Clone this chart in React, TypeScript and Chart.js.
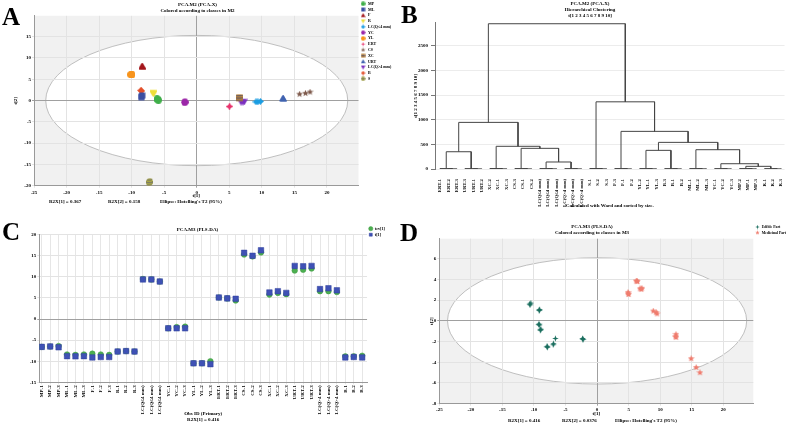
import { useEffect, useRef } from 'react';
import { Chart, registerables } from 'chart.js';
Chart.register(...registerables);

const FONT = "'Liberation Serif', 'Times New Roman', serif";
const F5: any = { family: FONT, size: 5, weight: 'bold', lineHeight: 1.2 };
const F4: any = { family: FONT, size: 4, weight: 'bold', lineHeight: 1.2 };
Chart.defaults.font.family = FONT;
Chart.defaults.font.size = 5;
Chart.defaults.font.weight = 'bold' as any;
Chart.defaults.color = '#000';

// ---------- Panel A: PCA score plot (M2) ----------
const aGroups = ['MP', 'ML', 'F', 'R', 'LC(Q≤4 mm)', 'YC', 'YL', 'ERT', 'CS', 'XC', 'URT', 'LC(Q>4 mm)', 'B', 'S'];
const aMP = [[-6.0, 0.2], [-6.1, 0.4], [-5.9, 0.1]];
const aML = [[-8.5, 0.8], [-8.4, 1.2], [-8.5, 1.0]];
const aF = [[-8.4, 8.0], [-8.3, 7.9], [-8.4, 8.1]];
const aR = [[-6.7, 1.7], [-6.6, 1.6], [-6.7, 1.8]];
const aLC4 = [[9.1, -0.3], [9.4, -0.3], [9.8, -0.2]];
const aYC = [[-1.9, -0.4], [-1.8, -0.3], [-1.8, -0.5]];
const aYL = [[-10.1, 6.1], [-10.0, 6.2], [-10.0, 6.0]];
const aERT = [[5.0, -1.4], [5.1, -1.3], [5.0, -1.5]];
const aCS = [[15.8, 1.5], [16.7, 1.7], [17.4, 2.0]];
const aXC = [[6.5, 0.5], [6.6, 0.7], [6.5, 0.6]];
const aURT = [[13.3, 0.4], [13.2, 0.5], [13.3, 0.5]];
const aLC5 = [[6.8, -0.4], [7.1, -0.4], [7.3, -0.3]];
const aB = [[-8.5, 2.3], [-8.6, 2.4], [-8.5, 2.2]];
const aS = [[-7.3, -19.2], [-7.2, -19.0], [-7.3, -19.3]];
const aData = [aMP, aML, aF, aR, aLC4, aYC, aYL, aERT, aCS, aXC, aURT, aLC5, aB, aS];
const aEllipse = [23.2, 15.3];

// ---------- Panel B: hierarchical clustering ----------
const bGroups = ['ERT', 'URT', 'XC', 'CS', 'LC(Q≤4 mm)', 'LC(Q>4 mm)', 'S', 'F', 'YL', 'B', 'ML', 'YC', 'MP', 'R'];
const bLeaves = ['ERT-1', 'ERT-2', 'ERT-3', 'URT-3', 'URT-1', 'URT-2', 'XC-2', 'XC-1', 'XC-3', 'CS-3', 'CS-1', 'CS-2',
  'LC(Q≤4 mm)', 'LC(Q≤4 mm)', 'LC(Q≤4 mm)', 'LC(Q>4 mm)', 'LC(Q>4 mm)', 'LC(Q>4 mm)', 'S-1', 'S-2', 'S-3',
  'F-3', 'F-1', 'F-2', 'YL-2', 'YL-1', 'YL-3', 'B-3', 'B-1', 'B-2', 'ML-1', 'ML-2', 'ML-3', 'YC-1', 'YC-2', 'YC-3',
  'MP-2', 'MP-1', 'MP-3', 'R-1', 'R-2', 'R-3'];
const bTicks = [0, 500, 1000, 1500, 2000, 2500];
const bWithin = [[4, 9], [3, 8], [4, 10], [3, 9], [4, 9], [3, 8], [4, 10], [3, 9], [4, 9], [3, 8], [4, 9], [3, 8], [4, 9], [3, 8]];
const bMerges: [string, string, number][] = [
  ['ERT', 'URT', 350],
  ['LC(Q≤4 mm)', 'LC(Q>4 mm)', 142],
  ['CS', 'm1', 419],
  ['XC', 'm2', 460],
  ['m0', 'm3', 945],
  ['MP', 'R', 54],
  ['YC', 'm5', 107],
  ['ML', 'm6', 391],
  ['YL', 'B', 378],
  ['m8', 'm7', 540],
  ['F', 'm9', 763],
  ['S', 'm10', 1362],
  ['m4', 'm11', 2945],
];

// ---------- Panel C: PLS-DA scores per observation ----------
const cLabels = ['MP-1', 'MP-2', 'MP-3', 'ML-1', 'ML-2', 'ML-3', 'F-1', 'F-2', 'F-3', 'R-1', 'R-2', 'R-3',
  'LC(Q≤4 mm)', 'LC(Q≤4 mm)', 'LC(Q≤4 mm)', 'YC-1', 'YC-2', 'YC-3', 'YL-1', 'YL-2', 'YL-3', 'ERT-1', 'ERT-2', 'ERT-3',
  'CS-1', 'CS-2', 'CS-3', 'XC-1', 'XC-2', 'XC-3', 'URT-1', 'URT-2', 'URT-3', 'LC(Q>4 mm)', 'LC(Q>4 mm)', 'LC(Q>4 mm)',
  'B-1', 'B-2', 'B-3'];
const cTcv = [-6.6, -6.5, -6.4, -8.4, -8.5, -8.4, -8.2, -8.4, -8.5, -7.7, -7.6, -7.7, 9.5, 9.4, 8.9, -2.2, -1.9, -1.8,
  -10.5, -10.5, -10.0, 5.1, 4.9, 4.4, 15.3, 14.85, 15.8, 5.8, 6.2, 5.9, 11.5, 11.7, 12.0, 6.6, 6.6, 6.4, -8.85, -8.85, -8.7];
const cT = [-6.6, -6.5, -6.7, -8.8, -8.85, -8.8, -9.1, -9.0, -9.0, -7.7, -7.6, -7.7, 9.4, 9.4, 8.9, -2.2, -2.2, -2.2,
  -10.5, -10.5, -10.7, 5.1, 4.9, 4.8, 15.7, 15.0, 16.3, 6.3, 6.6, 6.2, 12.6, 12.5, 12.6, 7.1, 7.3, 6.8, -9.1, -9.0, -9.1];

// ---------- Panel D: PLS-DA score plot (M3) ----------
const dEdible = [[-10.5, 1.72], [-10.6, 1.55], [-10.7, 1.62], [-9.1, 1.1], [-9.2, 1.05], [-9.15, 1.0],
  [-9.2, -0.3], [-9.15, -0.4], [-9.25, -0.35], [-8.9, -0.8], [-9.0, -0.9], [-8.95, -0.85],
  [-7.9, -2.45], [-7.85, -2.55], [-7.95, -2.5], [-6.9, -2.2], [-6.95, -2.3], [-6.6, -1.7],
  [-2.3, -1.7], [-2.2, -1.8], [-2.3, -1.75]];
const dMedicinal = [[4.9, 2.75], [5.0, 2.55], [4.95, 2.62], [6.2, 3.85], [6.4, 3.8], [6.3, 3.85],
  [6.8, 3.1], [7.1, 3.15], [7.0, 3.05], [8.9, 0.95], [9.35, 0.82], [9.5, 0.68],
  [12.5, -1.3], [12.45, -1.5], [12.5, -1.6], [14.9, -3.65], [15.7, -4.5], [16.3, -5.0]];
const dEllipse = [23.7, 6.1];

// ---------- marker images ----------
function marker(kind: string, color: string, size: number, color2?: string): HTMLCanvasElement {
  const c = document.createElement('canvas');
  const px = Math.ceil(size);
  c.width = px; c.height = px;
  const g = c.getContext('2d')!;
  const m = px / 2, r = size / 2;
  const poly = (pts: number[][]) => {
    g.beginPath();
    pts.forEach(([x, y], i) => (i ? g.lineTo(x, y) : g.moveTo(x, y)));
    g.closePath();
  };
  const star = (n: number, ro: number, ri: number) => {
    const pts: number[][] = [];
    for (let i = 0; i < 2 * n; i++) {
      const a = -Math.PI / 2 + (i * Math.PI) / n;
      const rr = i % 2 ? ri : ro;
      pts.push([m + rr * Math.cos(a), m + rr * Math.sin(a)]);
    }
    poly(pts);
  };
  const hex = () => {
    const pts: number[][] = [];
    for (let i = 0; i < 6; i++) { const a = (i * Math.PI) / 3; pts.push([m + r * Math.cos(a), m + r * Math.sin(a)]); }
    poly(pts);
  };
  g.fillStyle = color;
  switch (kind) {
    case 'circle': g.beginPath(); g.arc(m, m, r, 0, Math.PI * 2); break;
    case 'square': g.beginPath(); g.rect(m - r * 0.85, m - r * 0.85, r * 1.7, r * 1.7); break;
    case 'tri': poly([[m, m - r], [m + r, m + r * 0.8], [m - r, m + r * 0.8]]); break;
    case 'triDown': poly([[m, m + r], [m + r, m - r * 0.8], [m - r, m - r * 0.8]]); break;
    case 'hex': hex(); break;
    case 'star5': star(5, r, r * 0.45); break;
    case 'star4': star(4, r, r * 0.36); break;
    case 'star4fat': star(4, r, r * 0.62); break;
    case 'bands': g.beginPath(); g.rect(m - r * 0.9, m - r * 0.8, r * 1.8, r * 1.6); break;
    case 'hexbands': hex(); break;
  }
  g.fill();
  if ((kind === 'bands' || kind === 'hexbands') && color2) {
    g.save();
    g.clip();
    g.fillStyle = color2;
    const h = size / 5;
    for (let k = 0; k < 3; k++) g.fillRect(0, m - r + (2 * k + 0.5) * h * 0.85, px, h * 0.8);
    g.restore();
  }
  return c;
}

const aStyle: [string, string, string?][] = [
  ['circle', '#3fae49'], ['square', '#3b4ea3'], ['tri', '#a3161b'], ['triDown', '#eede3a'],
  ['star4fat', '#1b9de2'], ['hex', '#9b27a8'], ['circle', '#f7941d'], ['star4', '#e8336d'],
  ['star5', '#7e5a4c'], ['bands', '#f0a12b', '#2d3c78'], ['tri', '#4163b0'], ['triDown', '#7a2fbf'],
  ['star4fat', '#e3502b'], ['hexbands', '#b8b53a', '#6e6e6e'],
];

function ellipsePlugin(a: number, b: number) {
  return {
    id: 'ellipseBg',
    beforeDraw(chart: any) {
      const { ctx, chartArea: ca, scales } = chart;
      const xs = scales.x, ys = scales.y;
      ctx.save();
      ctx.fillStyle = '#f1f1f1';
      ctx.fillRect(ca.left, ca.top, ca.right - ca.left, ca.bottom - ca.top);
      const cx = xs.getPixelForValue(0), cy = ys.getPixelForValue(0);
      const rx = Math.abs(xs.getPixelForValue(a) - cx), ry = Math.abs(ys.getPixelForValue(b) - cy);
      ctx.beginPath();
      ctx.ellipse(cx, cy, rx, ry, 0, 0, Math.PI * 2);
      ctx.fillStyle = '#fff';
      ctx.fill();
      ctx.lineWidth = 0.8;
      ctx.strokeStyle = '#b0b0b0';
      ctx.stroke();
      ctx.restore();
    },
  };
}

const gridZero = (ctx: any) => (ctx.tick && ctx.tick.value === 0 ? '#a0a0a0' : '#e3e3e3');

function buildDendro() {
  const pos: Record<string, { x: number; h: number }> = {};
  const segs: { x: number; y: number | null }[] = [];
  const push = (pts: number[][]) => {
    pts.forEach(([x, y]) => segs.push({ x, y }));
    segs.push({ x: pts[pts.length - 1][0], y: null });
  };
  bGroups.forEach((g, gi) => {
    const l0 = 3 * gi;
    const [h1, h2] = bWithin[gi];
    push([[l0 + 1, 0], [l0 + 1, h1], [l0 + 2, h1], [l0 + 2, 0]]);
    push([[l0, 0], [l0, h2], [l0 + 1.5, h2], [l0 + 1.5, h1]]);
    pos[g] = { x: l0 + 0.75, h: h2 };
  });
  bMerges.forEach(([l, r, h], i) => {
    const L = pos[l], R = pos[r];
    push([[L.x, L.h], [L.x, h], [R.x, h], [R.x, R.h]]);
    pos['m' + i] = { x: (L.x + R.x) / 2, h };
  });
  return segs;
}

const legendWith = (imgs: HTMLCanvasElement[]) => (chart: any) => {
  const items = (Chart.defaults.plugins.legend.labels as any).generateLabels(chart);
  items.forEach((it: any) => { it.pointStyle = imgs[it.datasetIndex]; });
  return items;
};

function cfgA(): any {
  const plotMarkers = aStyle.map(([k, c, c2]) => marker(k, c, 7, c2));
  const legMarkers = aStyle.map(([k, c, c2]) => marker(k, c, 4.6, c2));
  return {
    type: 'scatter',
    data: {
      datasets: aGroups.map((g, i) => ({
        label: g,
        data: aData[i].map(([x, y]) => ({ x, y })),
        pointStyle: plotMarkers[i],
        pointRadius: 3.5,
      })),
    },
    options: {
      responsive: false, animation: false, events: [], devicePixelRatio: 1,
      layout: { padding: 0 },
      plugins: {
        tooltip: { enabled: false },
        title: { display: true, text: ['PCA.M2 (PCA-X)', 'Colored according to classes in M2'], font: F5, color: '#000', padding: { top: 2, bottom: 1.8 } },
        legend: {
          position: 'right', align: 'start', maxWidth: 36.5,
          labels: { font: F4, color: '#000', usePointStyle: true, pointStyleWidth: 5.7, padding: 1.77, generateLabels: legendWith(legMarkers) },
        },
      },
      scales: {
        x: {
          type: 'linear', min: -25, max: 24.85,
          ticks: { stepSize: 5, includeBounds: false, font: F5, color: '#000', padding: 2 },
          grid: { color: gridZero, tickLength: 2 },
          border: { color: '#999' },
          title: { display: true, text: 't[1]', font: F5, color: '#000', padding: { top: 0, bottom: 13.5 } },
          afterFit: (s: any) => { s.height = 26.3; },
        },
        y: {
          type: 'linear', min: -20, max: 19.9,
          ticks: { stepSize: 5, includeBounds: false, font: F5, color: '#000', padding: 1 },
          grid: { color: gridZero, tickLength: 2 },
          border: { color: '#999' },
          title: { display: true, text: 't[2]', font: F5, color: '#000', padding: { top: 13, bottom: 0 } },
          afterFit: (s: any) => { s.width = 34; },
        },
      },
    },
    plugins: [ellipsePlugin(aEllipse[0], aEllipse[1])],
  };
}

function cfgB(): any {
  return {
    type: 'line',
    data: {
      datasets: [{ data: buildDendro(), borderColor: '#454545', borderWidth: 1, pointRadius: 0, spanGaps: false, tension: 0 }],
    },
    options: {
      responsive: false, animation: false, events: [], devicePixelRatio: 1,
      layout: { padding: { right: 4 } },
      plugins: {
        tooltip: { enabled: false },
        legend: { display: false },
        title: { display: true, text: ['PCA.M2 (PCA-X)', 'Hierarchical Clustering', 't[1 2 3 4 5 6 7 8 9 10]'], font: F5, color: '#000', padding: { top: 1, bottom: 3.7 } },
      },
      scales: {
        x: {
          type: 'linear', min: -0.6, max: 41.4,
          afterBuildTicks: (s: any) => { s.ticks = bLeaves.map((_, i) => ({ value: i })); },
          ticks: { autoSkip: false, minRotation: 90, maxRotation: 90, font: { ...F5, size: 4.8 }, color: '#000', padding: 2, callback: (v: any) => bLeaves[v] },
          grid: { display: false },
          border: { display: false },
          title: { display: true, text: 'Calculated with Ward and sorted by size.', font: F5, color: '#000', padding: { top: 0, bottom: 3.5 } },
          afterFit: (s: any) => { s.height = 43; },
        },
        y: {
          type: 'linear', min: 0, max: 2966,
          afterBuildTicks: (s: any) => { s.ticks = bTicks.map((v) => ({ value: v })); },
          ticks: { font: F5, color: '#000', padding: 3, callback: (v: any) => String(v) },
          grid: { color: '#ececec', tickLength: 4, tickColor: '#777' },
          border: { color: '#777' },
          title: { display: true, text: 't[1 2 3 4 5 6 7 8 9 10]', font: F5, color: '#000', padding: { top: 17.7, bottom: 0 } },
          afterFit: (s: any) => { s.width = 40; },
        },
      },
    },
  };
}

function cfgC(): any {
  const FL: any = { family: FONT, size: 4.2, weight: 'bold', lineHeight: 1.2 };
  return {
    type: 'scatter',
    data: {
      datasets: [
        { label: 'tcv[1]', data: cTcv.map((y, i) => ({ x: i, y })), pointStyle: 'circle', pointRadius: 2.8, backgroundColor: '#4caf50', borderColor: '#3e9a43', borderWidth: 0.5, order: 2 },
        { label: 't[1]', data: cT.map((y, i) => ({ x: i, y })), pointStyle: 'rect', pointRadius: 3.9, backgroundColor: '#3f51b5', borderColor: '#2f3f9a', borderWidth: 0.5, order: 1 },
      ],
    },
    options: {
      responsive: false, animation: false, events: [], devicePixelRatio: 1,
      layout: { padding: 0 },
      plugins: {
        tooltip: { enabled: false },
        title: { display: true, text: 'PCA.M3 (PLS-DA)', font: F5, color: '#000', padding: { top: 14.3, bottom: 2.4 } },
        legend: {
          position: 'right', align: 'start', maxWidth: 30,
          title: { display: true, text: ' ', font: F5, padding: { top: 0, bottom: 6.8 } },
          labels: { font: FL, color: '#000', usePointStyle: true, boxWidth: 3.8, boxHeight: 3, padding: 1.8, sort: (a: any, b: any) => a.datasetIndex - b.datasetIndex },
        },
      },
      scales: {
        x: {
          type: 'linear', min: -0.29, max: 38.58,
          afterBuildTicks: (s: any) => { s.ticks = cLabels.map((_, i) => ({ value: i })); },
          ticks: { autoSkip: false, minRotation: 90, maxRotation: 90, font: F5, color: '#000', padding: 1, callback: (v: any) => cLabels[v] },
          grid: { color: '#e6e6e6', tickLength: 2 },
          border: { color: '#999' },
          title: { display: true, text: ['Obs ID (Primary)', 'R2X[1] = 0.416'], font: F5, color: '#000', padding: { top: 0, bottom: 1.3 } },
          afterFit: (s: any) => { s.height = 41.7; },
        },
        y: {
          type: 'linear', min: -15, max: 20,
          ticks: { stepSize: 5, font: F5, color: '#000', padding: 1 },
          grid: { color: gridZero, tickLength: 2 },
          border: { color: '#999' },
          afterFit: (s: any) => { s.width = 39.3; },
        },
      },
    },
  };
}

function cfgD(): any {
  const ed = marker('star4', '#1a6e5e', 6.5);
  const me = marker('star5', '#ef7c6e', 7);
  const leg = [marker('star4', '#1a6e5e', 4.4), marker('star5', '#ef7c6e', 4.6)];
  const FL: any = { family: FONT, size: 3.8, weight: 'bold', lineHeight: 1.2 };
  return {
    type: 'scatter',
    data: {
      datasets: [
        { label: 'Edible Part', data: dEdible.map(([x, y]) => ({ x, y })), pointStyle: ed, pointRadius: 3 },
        { label: 'Medicinal Part', data: dMedicinal.map(([x, y]) => ({ x, y })), pointStyle: me, pointRadius: 3 },
      ],
    },
    options: {
      responsive: false, animation: false, events: [], devicePixelRatio: 1,
      layout: { padding: 0 },
      plugins: {
        tooltip: { enabled: false },
        title: { display: true, text: ['PCA.M3 (PLS-DA)', 'Colored according to classes in M3'], font: F5, color: '#000', padding: { top: 11.7, bottom: 3 } },
        legend: {
          position: 'right', align: 'start', maxWidth: 35.7,
          title: { display: true, text: ' ', font: F5, padding: { top: 0, bottom: 5.2 } },
          labels: { font: FL, color: '#000', usePointStyle: true, pointStyleWidth: 4.6, padding: 1.9, generateLabels: legendWith(leg) },
        },
      },
      scales: {
        x: {
          type: 'linear', min: -25, max: 24.75,
          ticks: { stepSize: 5, includeBounds: false, font: F5, color: '#000', padding: 1 },
          grid: { color: gridZero, tickLength: 2 },
          border: { color: '#999' },
          title: { display: true, text: 't[1]', font: F5, color: '#000', padding: { top: 0, bottom: 7.3 } },
          afterFit: (s: any) => { s.height = 20.3; },
        },
        y: {
          type: 'linear', min: -8, max: 7.94,
          ticks: { stepSize: 2, includeBounds: false, font: F5, color: '#000', padding: 1 },
          grid: { color: gridZero, tickLength: 2 },
          border: { color: '#999' },
          title: { display: true, text: 't[2]', font: F5, color: '#000', padding: { top: 34, bottom: 0 } },
          afterFit: (s: any) => { s.width = 44.3; },
        },
      },
    },
    plugins: [ellipsePlugin(dEllipse[0], dEllipse[1])],
  };
}

const small = (left: number, top: number): React.CSSProperties => ({
  position: 'absolute', left, top, font: `bold 5px/6px ${FONT}`, whiteSpace: 'nowrap', color: '#000',
});
const letter = (left: number, top: number): React.CSSProperties => ({
  position: 'absolute', left, top, font: `bold 25px/25px ${FONT}`, color: '#000',
});
const cv = (left: number, top: number, w: number, h: number): React.CSSProperties => ({
  position: 'absolute', left, top, width: w, height: h,
});

export default function App() {
  const rA = useRef<HTMLCanvasElement>(null);
  const rB = useRef<HTMLCanvasElement>(null);
  const rC = useRef<HTMLCanvasElement>(null);
  const rD = useRef<HTMLCanvasElement>(null);
  useEffect(() => {
    const charts = [
      new Chart(rA.current!, cfgA()),
      new Chart(rB.current!, cfgB()),
      new Chart(rC.current!, cfgC()),
      new Chart(rD.current!, cfgD()),
    ];
    return () => charts.forEach((c) => c.destroy());
  }, []);
  return (
    <div style={{ position: 'absolute', left: 0, top: 0, width: 789, height: 424, background: '#fff', overflow: 'hidden' }}>
      <canvas ref={rA} width={395} height={212} style={cv(0, 0, 395, 212)} />
      <canvas ref={rB} width={394} height={212} style={cv(395, 0, 394, 212)} />
      <canvas ref={rC} width={395} height={212} style={cv(0, 212, 395, 212)} />
      <canvas ref={rD} width={394} height={212} style={cv(395, 212, 394, 212)} />
      <div style={small(49, 199)}>R2X[1] = 0.367</div>
      <div style={small(108, 199)}>R2X[2] = 0.158</div>
      <div style={small(160, 199)}>Ellipse: Hotelling's T2 (95%)</div>
      <div style={small(508, 417.7)}>R2X[1] = 0.416</div>
      <div style={small(562, 417.7)}>R2X[2] = 0.0376</div>
      <div style={small(615, 417.7)}>Ellipse: Hotelling's T2 (95%)</div>
      <div style={letter(2, 4)}>A</div>
      <div style={letter(401, 2)}>B</div>
      <div style={letter(2, 219)}>C</div>
      <div style={letter(400, 220)}>D</div>
    </div>
  );
}
